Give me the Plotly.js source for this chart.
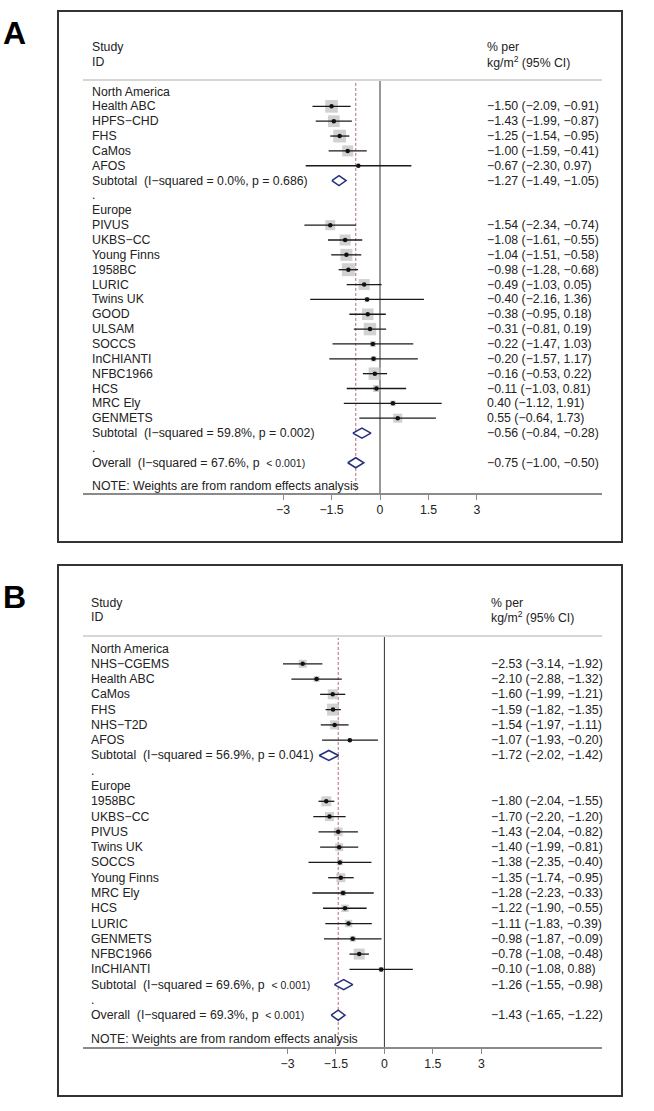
<!DOCTYPE html>
<html>
<head>
<meta charset="utf-8">
<script src="https://cdn.plot.ly/plotly-3.0.1.min.js"></script>
<style>html,body{margin:0;padding:0;background:#fff;}#chart{width:654px;height:1111px;}</style>
</head>
<body>
<div id="chart"></div>
<script>
// ---------------- DATA ----------------
const tickVals = [-3, -1.5, 0, 1.5, 3];
const tickText = ["−3", "−1.5", "0", "1.5", "3"];
const groupNames = ["North America", "Europe"];
const noteText = "NOTE: Weights are from random effects analysis";
const headStudy = ["Study", "ID"];
const headEffect = ["% per", "kg/m<sup>2</sup> (95% CI)"];

// Panel A
const A_NA_study = ["Health ABC", "HPFS−CHD", "FHS", "CaMos", "AFOS"];
const A_NA_est = [-1.50, -1.43, -1.25, -1.00, -0.67];
const A_NA_lo  = [-2.09, -1.99, -1.54, -1.59, -2.30];
const A_NA_hi  = [-0.91, -0.87, -0.95, -0.41, 0.97];
const A_NA_wt  = [7.2, 6.2, 7.4, 5.5, 0.5];
const A_NA_sub = [-1.27, -1.49, -1.05];
const A_NA_het = "I−squared = 0.0%, p = 0.686";

const A_EU_study = ["PIVUS", "UKBS−CC", "Young Finns", "1958BC", "LURIC", "Twins UK", "GOOD", "ULSAM", "SOCCS", "InCHIANTI", "NFBC1966", "HCS", "MRC Ely", "GENMETS"];
const A_EU_est = [-1.54, -1.08, -1.04, -0.98, -0.49, -0.40, -0.38, -0.31, -0.22, -0.20, -0.16, -0.11, 0.40, 0.55];
const A_EU_lo  = [-2.34, -1.61, -1.51, -1.28, -1.03, -2.16, -0.95, -0.81, -1.47, -1.57, -0.53, -1.03, -1.12, -0.64];
const A_EU_hi  = [-0.74, -0.55, -0.58, -0.68, 0.05, 1.36, 0.18, 0.19, 1.03, 1.17, 0.22, 0.81, 1.91, 1.73];
const A_EU_wt  = [4.5, 5.5, 6.5, 7.6, 5.5, 1.1, 6.0, 7.0, 1.6, 1.4, 7.0, 2.2, 1.4, 3.7];
const A_EU_sub = [-0.56, -0.84, -0.28];
const A_EU_het = "I−squared = 59.8%, p = 0.002";

const A_overall = [-0.75, -1.00, -0.50];
const A_overall_het = "I−squared = 67.6%, p < 0.001";

// Panel B
const B_NA_study = ["NHS−CGEMS", "Health ABC", "CaMos", "FHS", "NHS−T2D", "AFOS"];
const B_NA_est = [-2.53, -2.10, -1.60, -1.59, -1.54, -1.07];
const B_NA_lo  = [-3.14, -2.88, -1.99, -1.82, -1.97, -1.93];
const B_NA_hi  = [-1.92, -1.32, -1.21, -1.35, -1.11, -0.20];
const B_NA_wt  = [2.9, 1.6, 4.5, 6.5, 3.7, 0.7];
const B_NA_sub = [-1.72, -2.02, -1.42];
const B_NA_het = "I−squared = 56.9%, p = 0.041";

const B_EU_study = ["1958BC", "UKBS−CC", "PIVUS", "Twins UK", "SOCCS", "Young Finns", "MRC Ely", "HCS", "LURIC", "GENMETS", "NFBC1966", "InCHIANTI"];
const B_EU_est = [-1.80, -1.70, -1.43, -1.40, -1.38, -1.35, -1.28, -1.22, -1.11, -0.98, -0.78, -0.10];
const B_EU_lo  = [-2.04, -2.20, -2.04, -1.99, -2.35, -1.74, -2.23, -1.90, -1.83, -1.87, -1.08, -1.08];
const B_EU_hi  = [-1.55, -1.20, -0.82, -0.81, -0.40, -0.95, -0.33, -0.55, -0.39, -0.09, -0.48, 0.88];
const B_EU_wt  = [4.5, 3.7, 3.3, 2.9, 1.6, 3.7, 1.6, 2.5, 2.5, 1.6, 5.5, 1.1];
const B_EU_sub = [-1.26, -1.55, -0.98];
const B_EU_het = "I−squared = 69.6%, p < 0.001";

const B_overall = [-1.43, -1.65, -1.22];
const B_overall_het = "I−squared = 69.3%, p < 0.001";

// ---------------- LAYOUT HELPERS ----------------
const W = 654, H = 1111;
const px = x => x / W;
const py = y => 1 - y / H;
const FONT = "Liberation Sans, Arial, Helvetica, sans-serif";
const TXT = "#222";

function fmt(v) { return (v < 0 ? "−" : "") + Math.abs(v).toFixed(2); }
function fmtCI(e, l, h) { return fmt(e) + " (" + fmt(l) + ", " + fmt(h) + ")"; }
function fmtHet(s) {
  return s.replace("p < ", "p\u00a0 <span style=\"font-size:10.5px\">&lt; ").replace(/$/, s.indexOf("p < ") >= 0 ? ")</span>" : ")");
}

function buildRows(groups, overall, overallHet) {
  const rows = [];
  groups.forEach(g => {
    rows.push({kind: "head", label: g.name});
    g.study.forEach((s, i) => rows.push({kind: "study", label: s, est: g.est[i], lo: g.lo[i], hi: g.hi[i], wt: g.wt[i]}));
    rows.push({kind: "sub", label: "Subtotal\u00a0 (" + fmtHet(g.het), est: g.sub[0], lo: g.sub[1], hi: g.sub[2]});
    rows.push({kind: "dot", label: "."});
  });
  rows.push({kind: "sub", label: "Overall\u00a0 (" + fmtHet(overallHet), est: overall[0], lo: overall[1], hi: overall[2]});
  return rows;
}

const panels = [
  {
    letter: "A", xa: "x", ya: "y",
    rows: buildRows([
      {name: groupNames[0], study: A_NA_study, est: A_NA_est, lo: A_NA_lo, hi: A_NA_hi, wt: A_NA_wt, sub: A_NA_sub, het: A_NA_het},
      {name: groupNames[1], study: A_EU_study, est: A_EU_est, lo: A_EU_lo, hi: A_EU_hi, wt: A_EU_wt, sub: A_EU_sub, het: A_EU_het}
    ], A_overall, A_overall_het),
    overall: A_overall,
    g: {row0: 91.5, step: 14.85, axisY: 493, sepY: 80, boxTop: 11, boxBot: 542, zeroX: 380, unit: 32.3,
        leftX: 90, rightX: 485, studyY: 47, idY: 62, letterY: 33}
  },
  {
    letter: "B", xa: "x2", ya: "y2",
    rows: buildRows([
      {name: groupNames[0], study: B_NA_study, est: B_NA_est, lo: B_NA_lo, hi: B_NA_hi, wt: B_NA_wt, sub: B_NA_sub, het: B_NA_het},
      {name: groupNames[1], study: B_EU_study, est: B_EU_est, lo: B_EU_lo, hi: B_EU_hi, wt: B_EU_wt, sub: B_EU_sub, het: B_EU_het}
    ], B_overall, B_overall_het),
    overall: B_overall,
    g: {row0: 648.5, step: 15.28, axisY: 1047, sepY: 636, boxTop: 565, boxBot: 1096, zeroX: 384.4, unit: 32.3,
        leftX: 89, rightX: 489, studyY: 603, idY: 617, letterY: 597}
  }
];

const traces = [];
const shapes = [];
const annotations = [];
const layout = {
  width: W, height: H,
  margin: {l: 0, r: 0, t: 0, b: 0},
  paper_bgcolor: "#fff", plot_bgcolor: "rgba(0,0,0,0)",
  showlegend: false,
  font: {family: FONT, size: 12.3, color: TXT}
};

panels.forEach((p, pi) => {
  const g = p.g;
  const sfx = pi === 0 ? "" : "2";
  const yref = p.ya, xref = p.xa;
  const rTop = (g.sepY - g.row0) / g.step;
  const rBot = (g.axisY - g.row0) / g.step;
  layout["xaxis" + sfx] = {
    domain: [px(83), px(602)],
    range: [(83 - g.zeroX) / g.unit, (602 - g.zeroX) / g.unit],
    anchor: yref,
    tickmode: "array", tickvals: tickVals, ticktext: tickText,
    ticks: "outside", ticklen: 5, tickwidth: 1, tickcolor: "#8a8a8a",
    showline: true, linecolor: "#8a8a8a", linewidth: 1.6,
    showgrid: false, zeroline: false, fixedrange: true,
    tickfont: {family: FONT, size: 12.3, color: TXT}
  };
  layout["yaxis" + sfx] = {
    domain: [py(g.axisY), py(g.sepY)],
    range: [rBot, rTop],
    anchor: xref, visible: false, fixedrange: true
  };

  const sx = [], sy = [], ss = [], dx = [], dy = [], ep = [], em = [];
  const diaX = [], diaY = [];
  const h = 5 / g.step;
  p.rows.forEach((r, i) => {
    // left label
    annotations.push({xref: "paper", yref: yref, x: px(g.leftX), y: i, text: r.label,
      xanchor: "left", yanchor: "middle", showarrow: false, font: {family: FONT, size: 12.3, color: TXT}});
    if (r.kind === "study" || r.kind === "sub") {
      annotations.push({xref: "paper", yref: yref, x: px(g.rightX), y: i, text: fmtCI(r.est, r.lo, r.hi),
        xanchor: "left", yanchor: "middle", showarrow: false, font: {family: FONT, size: 12.3, color: TXT}});
    }
    if (r.kind === "study") {
      sx.push(r.est); sy.push(i); ss.push(4.7 * Math.sqrt(r.wt));
      dx.push(r.est); dy.push(i); ep.push(r.hi - r.est); em.push(r.est - r.lo);
    }
    if (r.kind === "sub") {
      diaX.push(r.lo, r.est, r.hi, r.est, r.lo, null);
      diaY.push(i, i - h, i, i + h, i, null);
    }
  });
  // NOTE line
  annotations.push({xref: "paper", yref: yref, x: px(g.leftX), y: p.rows.length - 1 + 1.55, text: noteText,
    xanchor: "left", yanchor: "middle", showarrow: false, font: {family: FONT, size: 12.3, color: TXT}});

  traces.push({type: "scatter", mode: "markers", x: sx, y: sy, xaxis: xref, yaxis: yref,
    marker: {symbol: "square", size: ss, color: "#bdbdbd", line: {width: 0}}, hoverinfo: "skip", cliponaxis: false});
  traces.push({type: "scatter", mode: "markers", x: dx, y: dy, xaxis: xref, yaxis: yref,
    marker: {symbol: "circle", size: 4.5, color: "#111"},
    error_x: {type: "data", symmetric: false, array: ep, arrayminus: em, width: 0, thickness: 1.3, color: "#1a1a1a"},
    hoverinfo: "skip", cliponaxis: false});
  traces.push({type: "scatter", mode: "lines", x: diaX, y: diaY, xaxis: xref, yaxis: yref,
    fill: "toself", fillcolor: "#fff", line: {color: "#27307f", width: 1.5}, hoverinfo: "skip", cliponaxis: false});

  // headers
  [[headStudy[0], g.leftX, g.studyY], [headStudy[1], g.leftX, g.idY], [headEffect[0], g.rightX, g.studyY], [headEffect[1], g.rightX, g.idY]]
    .forEach(t => annotations.push({xref: "paper", yref: "paper", x: px(t[1]), y: py(t[2]), text: t[0],
      xanchor: "left", yanchor: "middle", showarrow: false, font: {family: FONT, size: 12.3, color: TXT}}));
  // panel letter
  annotations.push({xref: "paper", yref: "paper", x: px(1), y: py(g.letterY), text: "<b>" + p.letter + "</b>",
    xanchor: "left", yanchor: "middle", showarrow: false, font: {family: FONT, size: 32, color: "#000"}});

  // frame
  shapes.push({type: "rect", xref: "paper", yref: "paper", x0: px(58), x1: px(622), y0: py(g.boxBot), y1: py(g.boxTop),
    line: {color: "#333", width: 2}, fillcolor: "rgba(0,0,0,0)"});
  // header separator
  shapes.push({type: "line", xref: "paper", yref: "paper", x0: px(83), x1: px(602), y0: py(g.sepY), y1: py(g.sepY),
    line: {color: "#d6d6d6", width: 2}});
  // zero line
  shapes.push({type: "line", xref: xref, yref: yref + " domain", x0: 0, x1: 0, y0: 0, y1: 1,
    line: {color: "#333", width: 1}, layer: "below"});
  // overall estimate dashed line
  shapes.push({type: "line", xref: xref, yref: yref + " domain", x0: p.overall[0], x1: p.overall[0], y0: 0.005, y1: 0.995,
    line: {color: "#b36b72", width: 1, dash: "3px,2px"}, layer: "below"});
});

layout.shapes = shapes;
layout.annotations = annotations;

Plotly.newPlot("chart", traces, layout, {staticPlot: true, displayModeBar: false});
</script>
</body>
</html>
